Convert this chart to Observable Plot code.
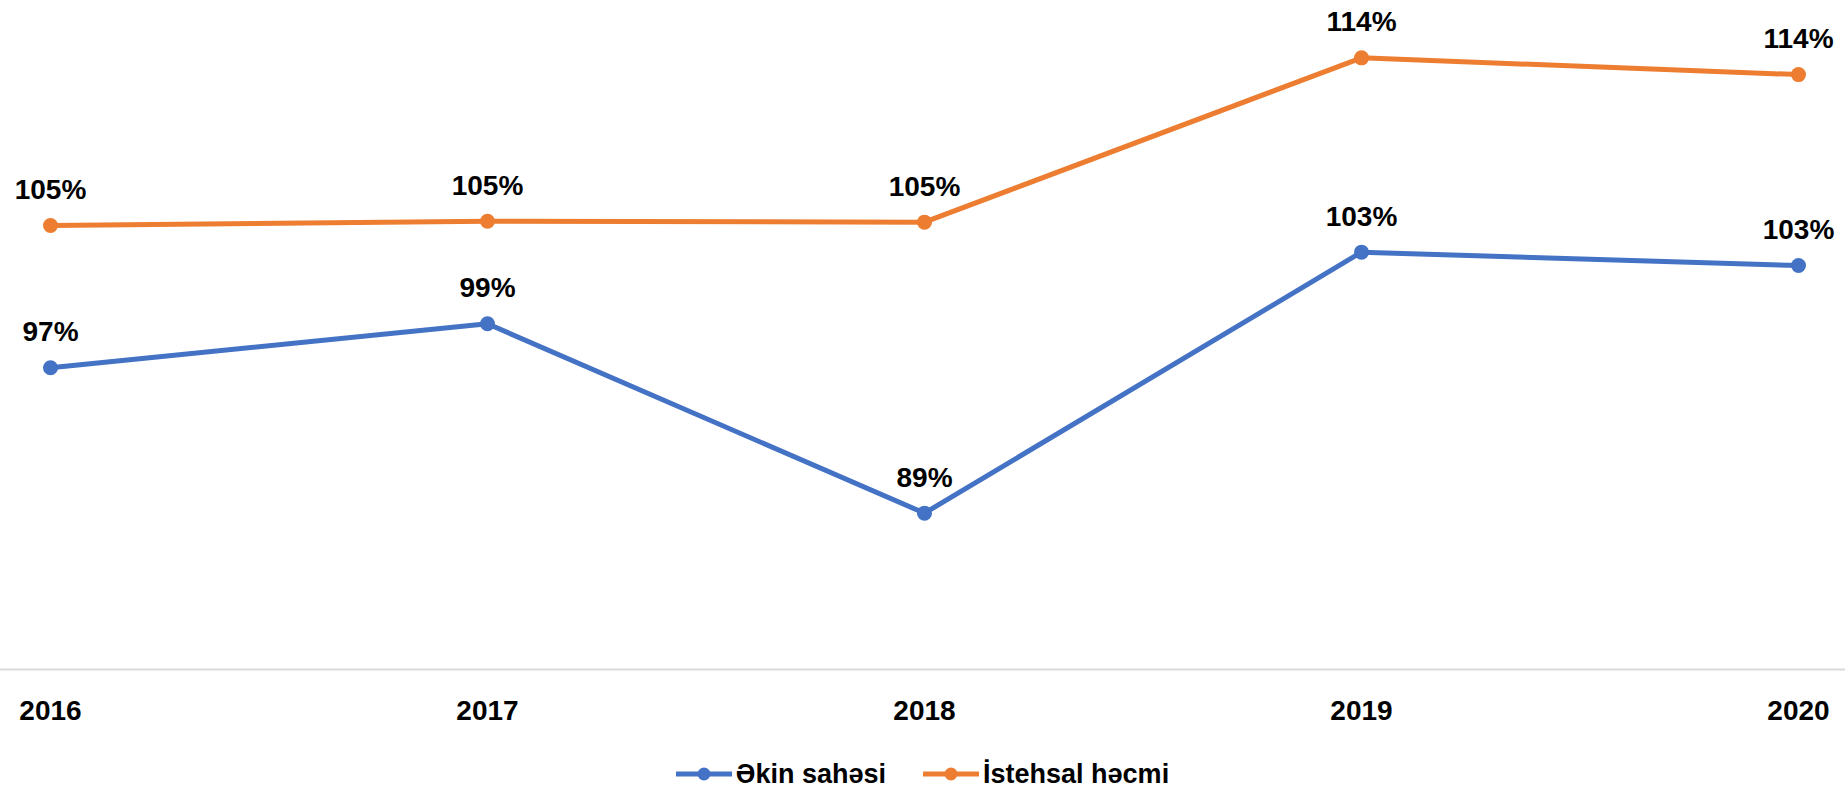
<!DOCTYPE html>
<html>
<head>
<meta charset="utf-8">
<script src="https://cdn.jsdelivr.net/npm/d3@7"></script>
<script src="https://cdn.jsdelivr.net/npm/@observablehq/plot@0.6"></script>
<style>
  html, body { margin: 0; padding: 0; background: #fff; }
  body { font-family: "Liberation Sans", Arial, sans-serif; width: 1845px; height: 787px; overflow: hidden; }
  #legend { height: 42px; box-sizing: border-box; padding-top: 16px; display: flex; justify-content: center; align-items: center; gap: 0; }
  .item { display: flex; align-items: center; font-weight: bold; font-size: 27px; color: #000; }
  .item svg { margin-right: 4px; }
  .item + .item { margin-left: 37px; }
</style>
</head>
<body>
<div id="chart"></div>
<div id="legend"></div>
<script>
const years = ["2016", "2017", "2018", "2019", "2020"];
const ekinSahesi = [96.91, 99.40, 88.67, 103.46, 102.70];
const istehsalHecmi = [104.97, 105.21, 105.16, 114.47, 113.52];
const seriesNames = ["Əkin sahəsi", "İstehsal həcmi"];
const seriesColors = ["#4472C4", "#ED7D31"];
const yBaseline = 79.81;
const yTop = 117.72;

const seriesValues = [ekinSahesi, istehsalHecmi];
const rows = seriesNames.flatMap((name, i) =>
  years.map((year, j) => ({ series: name, year, value: seriesValues[i][j] }))
);

const chart = Plot.plot({
  width: 1845,
  height: 745,
  marginLeft: 0,
  marginRight: 0,
  marginTop: 0,
  marginBottom: 76,
  x: { type: "point", domain: years, range: [49.3, 1799], padding: 0 },
  y: { domain: [yBaseline, yTop], axis: null },
  color: { domain: seriesNames, range: seriesColors },
  style: { fontFamily: "'Liberation Sans', Arial, sans-serif", color: "#000", background: "#fff", overflow: "visible" },
  marks: [
    Plot.ruleY([yBaseline], { stroke: "#D9D9D9", strokeWidth: 2 }),
    Plot.axisX({ tickSize: 0, tickPadding: 31, fontWeight: "bold", fontSize: 28, fill: "#000", label: null }),
    Plot.line(rows, { x: "year", y: "value", z: "series", stroke: "series", strokeWidth: 5 }),
    Plot.dot(rows, { x: "year", y: "value", fill: "series", r: 7.5 }),
    Plot.text(rows, {
      x: "year", y: "value",
      text: d => Math.round(d.value) + "%",
      dy: -35.5, fontWeight: "bold", fontSize: 28, fill: "#000"
    })
  ]
});
document.getElementById("chart").appendChild(chart);

const legend = document.getElementById("legend");
seriesNames.forEach((name, i) => {
  const item = document.createElement("div");
  item.className = "item";
  const c = seriesColors[i];
  item.innerHTML = `<svg width="56" height="16"><line x1="0" y1="8" x2="56" y2="8" stroke="${c}" stroke-width="5"/><circle cx="28" cy="8" r="6.5" fill="${c}"/></svg><span>${name}</span>`;
  legend.appendChild(item);
});
</script>
</body>
</html>
